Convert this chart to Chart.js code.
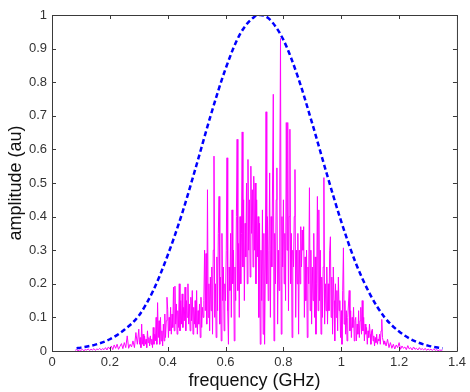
<!DOCTYPE html>
<html>
<head>
<meta charset="utf-8">
<script src="https://cdn.jsdelivr.net/npm/chart.js@4"></script>
<style>
  html, body { margin: 0; padding: 0; background: #fff; }
  #wrap { width: 470px; height: 392px; }
</style>
</head>
<body>
<div id="wrap"><canvas id="chart" width="470" height="392"></canvas></div>
<script>
// Gaussian envelope (blue dashed)
const envFreq = [0.085, 0.10, 0.15, 0.20, 0.25, 0.30, 0.35, 0.40, 0.45, 0.50, 0.55, 0.60, 0.65, 0.70,
  0.72, 0.75, 0.80, 0.85, 0.90, 0.95, 1.00, 1.05, 1.10, 1.15, 1.20, 1.25, 1.30, 1.35];
const envAmp = [0.008, 0.010, 0.019, 0.035, 0.063, 0.105, 0.180, 0.285, 0.410, 0.555, 0.705, 0.840, 0.943, 0.995,
  1.0, 0.989, 0.926, 0.816, 0.676, 0.527, 0.385, 0.262, 0.168, 0.100, 0.058, 0.031, 0.016, 0.008];

// measured spectrum (magenta) - coarse tails, fine sampling through the body
const specFreq = [
  0.080,0.085,0.090,0.095,0.100,0.105,0.110,0.115,0.120,0.125,0.130,0.135,0.140,0.145,0.150,0.155,0.160,0.165,0.170,0.175,
  0.180,0.185,0.190,0.195,0.200,0.205,0.210,0.215,0.220,0.225,0.230,0.235,0.240,0.245,0.250,0.255,0.260,0.265,0.270,0.275,
  0.280,0.285,0.290,0.295,
  0.3,0.3025,0.305,0.3075,0.31,0.3125,0.315,0.3175,0.32,0.3225,0.325,0.3275,0.33,0.3325,0.335,0.3375,0.34,0.3425,0.345,0.3475,
  0.35,0.3525,0.355,0.3575,0.36,0.3625,0.365,0.3675,0.37,0.3725,0.375,0.3775,0.38,0.3825,0.385,0.3875,0.39,0.3925,0.395,0.3975,
  0.4,0.4025,0.405,0.4075,0.41,0.4125,0.415,0.4175,0.42,0.4225,0.425,0.4275,0.43,0.4325,0.435,0.4375,0.44,0.4425,0.445,0.4475,
  0.45,0.4525,0.455,0.4575,0.46,0.4625,0.465,0.4675,0.47,0.4725,0.475,0.4775,0.48,0.4825,0.485,0.4875,0.49,0.4925,0.495,0.4975,
  0.5,0.5025,0.505,0.5075,0.51,0.5125,0.515,0.5175,0.52,0.5225,0.525,0.5275,0.53,0.5325,0.535,0.5375,0.54,0.5425,0.545,0.5475,
  0.55,0.5525,0.555,0.5575,0.56,0.5625,0.565,0.5675,0.57,0.5725,0.575,0.5775,0.58,0.5825,0.585,0.5875,0.59,0.5925,0.595,0.5975,
  0.6,0.6025,0.605,0.6075,0.61,0.6125,0.615,0.6175,0.62,0.6225,0.625,0.6275,0.63,0.6325,0.635,0.6375,0.64,0.6425,0.645,0.6475,
  0.65,0.6525,0.655,0.6575,0.66,0.6625,0.665,0.6675,0.67,0.6725,0.675,0.6775,0.68,0.6825,0.685,0.6875,0.69,0.6925,0.695,0.6975,
  0.7,0.7025,0.705,0.7075,0.71,0.7125,0.715,0.7175,0.72,0.7225,0.725,0.7275,0.73,0.7325,0.735,0.7375,0.74,0.7425,0.745,0.7475,
  0.75,0.7525,0.755,0.7575,0.76,0.7625,0.765,0.7675,0.77,0.7725,0.775,0.7775,0.78,0.7825,0.785,0.7875,0.79,0.7925,0.795,0.7975,
  0.8,0.8025,0.805,0.8075,0.81,0.8125,0.815,0.8175,0.82,0.8225,0.825,0.8275,0.83,0.8325,0.835,0.8375,0.84,0.8425,0.845,0.8475,
  0.85,0.8525,0.855,0.8575,0.86,0.8625,0.865,0.8675,0.87,0.8725,0.875,0.8775,0.88,0.8825,0.885,0.8875,0.89,0.8925,0.895,0.8975,
  0.9,0.9025,0.905,0.9075,0.91,0.9125,0.915,0.9175,0.92,0.9225,0.925,0.9275,0.93,0.9325,0.935,0.9375,0.94,0.9425,0.945,0.9475,
  0.95,0.9525,0.955,0.9575,0.96,0.9625,0.965,0.9675,0.97,0.9725,0.975,0.9775,0.98,0.9825,0.985,0.9875,0.99,0.9925,0.995,0.9975,
  1.0,1.0025,1.005,1.0075,1.01,1.0125,1.015,1.0175,1.02,1.0225,1.025,1.0275,1.03,1.0325,1.035,1.0375,1.04,1.0425,1.045,1.0475,
  1.05,1.0525,1.055,1.0575,1.06,1.0625,1.065,1.0675,1.07,1.0725,1.075,1.0775,1.08,1.0825,1.085,1.0875,1.09,1.0925,1.095,1.0975,
  1.1,1.1025,1.105,1.1075,1.11,1.1125,1.115,1.1175,1.12,1.1225,1.125,1.1275,1.13,1.1325,1.135,1.1375,1.14,1.1425,1.145,1.1475,
  1.150,1.155,1.160,1.165,1.170,1.175,
  1.180,1.185,1.190,1.195,1.200,1.205,1.210,1.215,1.220,1.225,1.230,1.235,1.240,1.245,1.250,1.255,1.260,1.265,1.270,1.275,
  1.280,1.285,1.290,1.295,1.300,1.305,1.310,1.315,1.320,1.325,1.330,1.335,1.340,1.345,1.350
];
const specAmp = [
  0.002,0.004,0.001,0.003,0.002,0.005,0.001,0.004,0.003,0.006,0.002,0.005,0.003,0.007,0.002,0.006,0.004,0.008,0.003,0.007,
  0.004,0.010,0.003,0.012,0.006,0.015,0.004,0.018,0.008,0.020,0.005,0.014,0.022,0.007,0.025,0.010,0.045,0.008,0.020,0.012,
  0.030,0.010,0.055,0.020,
  0.065,0.02,0.04,0.01,0.08,0.02,0.05,0.015,0.045,0.02,0.035,0.01,0.06,0.025,0.04,0.015,0.045,0.02,0.035,0.01,
  0.07,0.02,0.05,0.03,0.1,0.02,0.144,0.04,0.09,0.02,0.1,0.03,0.06,0.015,0.08,0.03,0.11,0.04,0.09,0.16,
  0.124,0.04,0.1,0.06,0.13,0.05,0.11,0.07,0.19,0.06,0.193,0.08,0.14,0.05,0.12,0.07,0.2,0.06,0.15,0.08,
  0.17,0.07,0.13,0.09,0.19,0.06,0.15,0.1,0.2,0.08,0.14,0.06,0.16,0.09,0.18,0.05,0.13,0.08,0.15,0.07,
  0.18,0.05,0.12,0.08,0.14,0.04,0.16,0.07,0.13,0.1,0.15,0.3,0.12,0.29,0.08,0.48,0.1,0.2,0.06,0.22,
  0.12,0.25,0.05,0.3,0.58,0.1,0.2,0.04,0.28,0.12,0.35,0.46,0.08,0.22,0.03,0.35,0.15,0.25,0.06,0.2,
  0.15,0.3,0.575,0.12,0.02,0.25,0.18,0.35,0.1,0.42,0.2,0.3,0.03,0.25,0.15,0.4,0.63,0.18,0.32,0.1,
  0.4,0.2,0.35,0.652,0.25,0.45,0.15,0.38,0.28,0.5,0.2,0.57,0.3,0.45,0.22,0.55,0.35,0.48,0.25,0.52,
  0.3,0.5,0.2,0.45,0.28,0.4,0.1,0.38,0.02,0.3,0.15,0.42,0.05,0.35,0.02,0.25,0.712,0.2,0.4,0.15,
  0.3,0.53,0.1,0.4,0.25,0.5,0.764,0.03,0.35,0.2,0.45,0.545,0.08,0.3,0.18,0.5,0.93,0.05,0.4,0.25,
  0.45,0.2,0.35,0.15,0.68,0.3,0.68,0.12,0.4,0.66,0.2,0.35,0.04,0.3,0.25,0.4,0.54,0.1,0.3,0.2,
  0.35,0.05,0.3,0.2,0.37,0.25,0.36,0.3,0.37,0.1,0.28,0.15,0.3,0.04,0.25,0.2,0.486,0.12,0.3,0.08,
  0.25,0.15,0.35,0.1,0.28,0.05,0.2,0.46,0.12,0.42,0.15,0.3,0.05,0.22,0.1,0.25,0.516,0.08,0.2,0.12,
  0.25,0.08,0.2,0.12,0.3,0.34,0.1,0.22,0.05,0.25,0.15,0.03,0.2,0.1,0.18,0.06,0.22,0.12,0.15,0.04,
  0.12,0.02,0.18,0.307,0.08,0.15,0.05,0.12,0.03,0.1,0.14,0.18,0.06,0.12,0.04,0.1,0.07,0.13,0.03,0.09,
  0.1,0.03,0.08,0.05,0.12,0.04,0.09,0.13,0.05,0.15,0.06,0.1,0.03,0.08,0.05,0.07,0.02,0.06,0.04,0.08,
  0.05,0.02,0.06,0.065,0.03,0.045,0.015,0.04,0.025,0.05,0.02,0.035,0.03,0.05,0.02,0.06,0.094,0.04,0.03,0.02,
  0.030,0.015,0.035,0.010,0.025,0.008,
  0.020,0.006,0.018,0.010,0.025,0.005,0.015,0.008,0.012,0.004,0.016,0.006,0.010,0.003,0.012,0.005,0.008,0.003,0.010,0.004,
  0.007,0.003,0.008,0.002,0.006,0.003,0.005,0.002,0.006,0.002,0.004,0.001,0.003,0.002,0.003
];

const xTicks = [0, 0.2, 0.4, 0.6, 0.8, 1, 1.2, 1.4];
const yTicks = [0, 0.1, 0.2, 0.3, 0.4, 0.5, 0.6, 0.7, 0.8, 0.9, 1];

// MATLAB-style box with inward tick marks on all four sides
const boxPlugin = {
  id: "box",
  afterDraw(chart) {
    const { ctx, chartArea: a, scales } = chart;
    ctx.save();
    ctx.strokeStyle = "#3a3a3a";
    ctx.lineWidth = 1;
    ctx.beginPath();
    ctx.rect(a.left + 0.5, a.top + 0.5, a.right - a.left, a.bottom - a.top);
    const len = 4;
    xTicks.forEach(function (v) {
      const px = Math.round(scales.x.getPixelForValue(v)) + 0.5;
      ctx.moveTo(px, a.bottom); ctx.lineTo(px, a.bottom - len);
      ctx.moveTo(px, a.top); ctx.lineTo(px, a.top + len);
    });
    yTicks.forEach(function (v) {
      const py = Math.round(scales.y.getPixelForValue(v)) + 0.5;
      ctx.moveTo(a.left, py); ctx.lineTo(a.left + len, py);
      ctx.moveTo(a.right, py); ctx.lineTo(a.right - len, py);
    });
    ctx.stroke();
    ctx.restore();
  },
};

const tickFont = { family: "Arial, 'Liberation Sans', sans-serif", size: 13 };
const titleFont = { family: "Arial, 'Liberation Sans', sans-serif", size: 18 };
const plainLabel = function (value) { return String(Math.round(value * 10) / 10); };

new Chart(document.getElementById("chart"), {
  type: "line",
  data: {
    datasets: [
      {
        label: "envelope",
        data: envFreq.map(function (f, i) { return { x: f, y: envAmp[i] }; }),
        borderColor: "#0000ff",
        borderWidth: 2.5,
        borderDash: [5, 3],
        pointRadius: 0,
        cubicInterpolationMode: "monotone",
        fill: false,
      },
      {
        label: "spectrum",
        data: specFreq.map(function (f, i) { return { x: f, y: specAmp[i] }; }),
        borderColor: "#ff00ff",
        borderWidth: 1,
        pointRadius: 0,
        tension: 0,
        fill: false,
      },
    ],
  },
  options: {
    responsive: false,
    animation: false,
    devicePixelRatio: 1,
    layout: { padding: { top: 15, right: 8, left: 0, bottom: 0 } },
    plugins: { legend: { display: false }, tooltip: { enabled: false } },
    scales: {
      x: {
        type: "linear",
        min: 0,
        max: 1.4,
        afterBuildTicks: function (s) { s.ticks = xTicks.map(function (v) { return { value: v }; }); },
        afterFit: function (s) { s.height = 41; },
        grid: { display: false, drawTicks: false },
        border: { display: false },
        ticks: { color: "#333", font: tickFont, padding: 4, maxRotation: 0, callback: plainLabel },
        title: { display: true, text: "frequency (GHz)", color: "#111", font: titleFont, padding: { top: 0, bottom: 0 } },
      },
      y: {
        min: 0,
        max: 1,
        afterBuildTicks: function (s) { s.ticks = yTicks.map(function (v) { return { value: v }; }); },
        afterFit: function (s) { s.width = 52; },
        grid: { display: false, drawTicks: false },
        border: { display: false },
        ticks: { color: "#333", font: tickFont, padding: 5, callback: plainLabel },
        title: { display: true, text: "amplitude (au)", color: "#111", font: titleFont, padding: { top: 5, bottom: 0 } },
      },
    },
  },
  plugins: [boxPlugin],
});
</script>
</body>
</html>
